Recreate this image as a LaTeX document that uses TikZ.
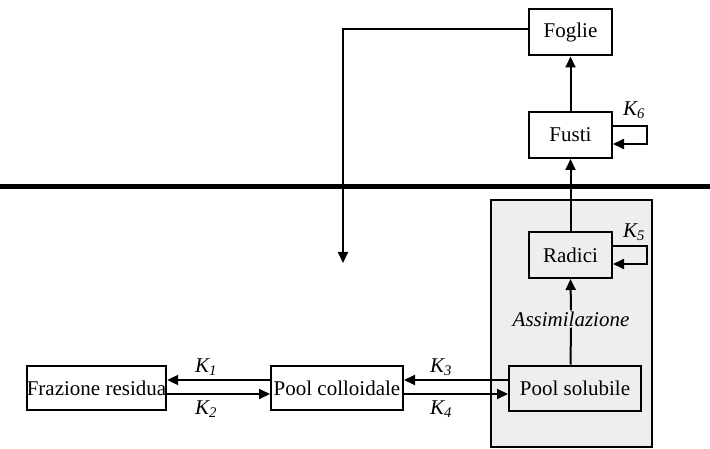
\documentclass[tikz,border=0pt]{standalone}
\usepackage{fontspec}
\setmainfont{Liberation Serif}
\usetikzlibrary{arrows.meta}
\definecolor{boxgray}{HTML}{EEEEEE}
\tikzset{
  box/.style={draw, line width=2pt, inner sep=0pt, minimum height=46pt, font=\fontsize{21}{24}\selectfont},
  arr/.style={line width=2pt, -{Triangle[length=11pt,width=10pt]}},
  klabel/.style={font=\fontsize{21}{24}\selectfont\itshape, inner sep=1pt},
}
\begin{document}
\begin{tikzpicture}[x=1pt,y=-1pt]
\useasboundingbox (0,0) rectangle (710,449);
% shaded region
\draw[fill=boxgray, line width=1.8pt] (491,200) rectangle (652,447);
% soil line
\draw[line width=5pt] (0,187) -- (710,187);
% nodes
\node[box, minimum width=83pt] (foglie) at (570.5,32.5) {Foglie};
\node[box, minimum width=83pt] (fusti) at (570.5,135) {Fusti};
\node[box, minimum width=83pt] (radici) at (570.5,255) {Radici};
\node[box, minimum width=132pt, minimum height=45pt] (psol) at (575,388) {Pool solubile};
\node[box, minimum width=132pt, minimum height=44pt] (pcol) at (337,388) {Pool colloidale};
\node[box, minimum width=139pt, minimum height=44pt] (fraz) at (96.5,388) {Frazione residua};
% vertical flow
\node[klabel, fill=boxgray] (assim) at (571,319) {Assimilazione};
\draw[line width=2pt] (psol.north -| radici) -- (assim.south);
\draw[arr] (assim.north) -- (radici.south);
\draw[arr] (radici.north) -- (fusti.south);
\draw[arr] (fusti.north) -- (foglie.south);
% loops
\draw[arr] ([yshift=9pt]fusti.east) -- ++(34pt,0) -- ++(0,-18pt) -- ([yshift=-9pt]fusti.east);
\draw[arr] ([yshift=9pt]radici.east) -- ++(34pt,0) -- ++(0,-18pt) -- ([yshift=-9pt]radici.east);
\node[klabel] (k6) at (634,110) {K\textsubscript{6}};
\node[klabel] (k5) at (634,232) {K\textsubscript{5}};
% feedback from leaves
\coordinate (fb) at (343,263);
\draw[arr] ([yshift=3pt]foglie.west) -| (fb);
% horizontal exchanges
\draw[arr] ([yshift=8pt]pcol.west) -- ([yshift=8pt]fraz.east);
\draw[arr] ([yshift=-6pt]fraz.east) -- ([yshift=-6pt]pcol.west);
\draw[arr] ([yshift=8pt]psol.west) -- ([yshift=8pt]pcol.east);
\draw[arr] ([yshift=-6pt]pcol.east) -- ([yshift=-6pt]psol.west);
\node[klabel] (k1) at (206,367) {K\textsubscript{1}};
\node[klabel] (k2) at (206,409) {K\textsubscript{2}};
\node[klabel] (k3) at (441,367) {K\textsubscript{3}};
\node[klabel] (k4) at (441,409) {K\textsubscript{4}};
\end{tikzpicture}
\end{document}
